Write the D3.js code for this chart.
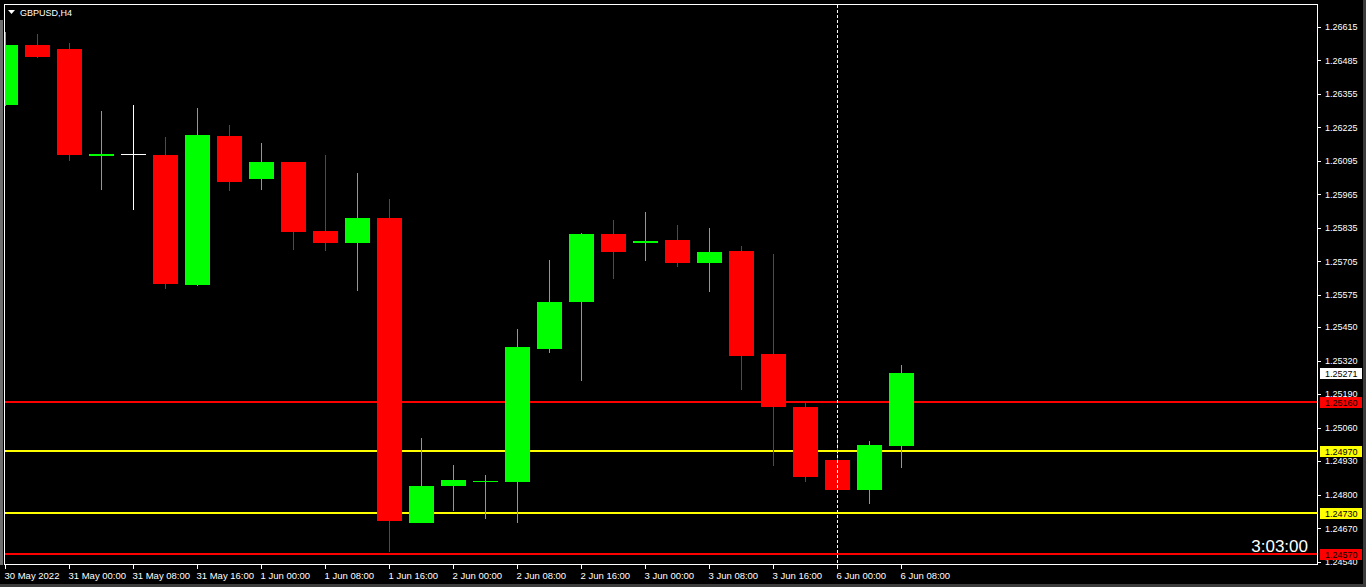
<!DOCTYPE html>
<html>
<head>
<meta charset="utf-8">
<script src="https://cdn.jsdelivr.net/npm/d3@7/dist/d3.min.js"></script>
<style>
  html, body { margin: 0; padding: 0; background: #000; }
  svg { display: block; }
  .axis text { fill: #fff; font-family: "Liberation Sans", Arial, sans-serif; }
  .axis line { stroke: #fff; }
  .axis path { display: none; }
</style>
</head>
<body>
<svg id="chart" width="1366" height="587"></svg>
<script>
//Data
const symbolTitle = 'GBPUSD,H4';
const timerText = '3:03:00';

// H4 bars, 30 May 16:00 -> 6 Jun 08:00
const opens  = [1.26311, 1.26544, 1.26528, 1.26113, 1.26120, 1.26119, 1.25613, 1.26191, 1.26024, 1.26090,
                1.25822, 1.25776, 1.25873, 1.24690, 1.24833, 1.24850, 1.24849, 1.25364, 1.25547, 1.25811,
                1.25776, 1.25787, 1.25698, 1.25745, 1.25345, 1.25139, 1.24934, 1.24818, 1.24988];
const highs  = [1.26594, 1.26586, 1.26551, 1.26288, 1.26311, 1.26187, 1.26299, 1.26233, 1.26164, 1.26092,
                1.26117, 1.26047, 1.25946, 1.25019, 1.24914, 1.24876, 1.25442, 1.25710, 1.25814, 1.25865,
                1.25896, 1.25845, 1.25834, 1.25764, 1.25733, 1.25155, 1.25019, 1.25008, 1.25302];
const lows   = [1.26307, 1.26495, 1.26094, 1.25981, 1.25904, 1.25597, 1.25611, 1.25977, 1.25981, 1.25748,
                1.25745, 1.25589, 1.24577, 1.24690, 1.24736, 1.24705, 1.24690, 1.25349, 1.25240, 1.25636,
                1.25706, 1.25683, 1.25586, 1.25205, 1.24911, 1.24849, 1.24806, 1.24763, 1.24903];
const closes = [1.26544, 1.26497, 1.26117, 1.26121, 1.26120, 1.25617, 1.26195, 1.26012, 1.26090, 1.25818,
                1.25776, 1.25873, 1.24697, 1.24833, 1.24856, 1.24852, 1.25372, 1.25547, 1.25811, 1.25741,
                1.25783, 1.25698, 1.25741, 1.25337, 1.25139, 1.24868, 1.24818, 1.24992, 1.25271];

// one label every 2 bars (8 hours)
const timeLabels = ['30 May 2022', '31 May 00:00', '31 May 08:00', '31 May 16:00', '1 Jun 00:00', '1 Jun 08:00',
                    '1 Jun 16:00', '2 Jun 00:00', '2 Jun 08:00', '2 Jun 16:00', '3 Jun 00:00', '3 Jun 08:00',
                    '3 Jun 16:00', '6 Jun 00:00', '6 Jun 08:00'];

const priceTicks = [1.26615, 1.26485, 1.26355, 1.26225, 1.26095, 1.25965, 1.25835, 1.25705, 1.25575,
                    1.25450, 1.25320, 1.25190, 1.25060, 1.24930, 1.24800, 1.24670, 1.24540];

const priceRange = [1.24527, 1.26699];
const barSlots = 41;             // bars that fit on the visible chart

const levelPrices = [1.25160, 1.24970, 1.24730, 1.24570];
const levelKinds  = ['red', 'yellow', 'yellow', 'red'];
const separatorBar = 26;         // 6 Jun 00:00

//Layout + Styles
const W = 1366, H = 587;
const plot = { left: 5, top: 5, right: 1318, bottom: 565 };
const COLORS = { bull: '#00ff00', bear: '#ff0000', doji: '#ffffff', red: '#ff0000', yellow: '#ffff00' };

const svg = d3.select('#chart');

svg.append('rect').attr('width', W).attr('height', H).attr('fill', '#000');
// window edges
svg.append('rect').attr('x', 0).attr('y', 584).attr('width', W).attr('height', 3).attr('fill', '#3c3c3c');
svg.append('rect').attr('x', 1363).attr('y', 0).attr('width', 3).attr('height', H).attr('fill', '#3c3c3c');
svg.append('rect').attr('x', 0).attr('y', 20).attr('width', 3).attr('height', 545).attr('fill', '#6e6e6e');

const x = d3.scaleLinear().domain([0, barSlots]).range([plot.left, plot.left + 32 * barSlots]);
const y = d3.scaleLinear().domain(priceRange).range([plot.bottom, plot.top]);

const bars = opens.map((o, i) => ({ i, o, h: highs[i], l: lows[i], c: closes[i] }));
const barColor = d => d.c > d.o ? COLORS.bull : d.c < d.o ? COLORS.bear : COLORS.doji;

svg.append('defs').append('clipPath').attr('id', 'plot-clip')
  .append('rect')
  .attr('x', plot.left).attr('y', plot.top)
  .attr('width', plot.right - plot.left).attr('height', plot.bottom - plot.top);

const g = svg.append('g').attr('clip-path', 'url(#plot-clip)').attr('shape-rendering', 'crispEdges');

// horizontal levels
levelPrices.forEach((p, i) => {
  g.append('rect')
    .attr('x', plot.left).attr('width', plot.right - plot.left)
    .attr('y', Math.round(y(p)) - 1).attr('height', 2)
    .attr('fill', COLORS[levelKinds[i]]);
});

// wicks
g.selectAll('.wick').data(bars).join('rect')
  .attr('class', 'wick')
  .attr('x', d => Math.round(x(d.i)))
  .attr('width', 1)
  .attr('y', d => Math.round(y(d.h)))
  .attr('height', d => Math.max(1, Math.round(y(d.l)) - Math.round(y(d.h))))
  .attr('fill', barColor);

// bodies
g.selectAll('.body').data(bars).join('rect')
  .attr('class', 'body')
  .attr('x', d => Math.round(x(d.i)) - 12)
  .attr('width', 25)
  .attr('y', d => Math.round(y(Math.max(d.o, d.c))))
  .attr('height', d => Math.max(1, Math.round(y(Math.min(d.o, d.c))) - Math.round(y(Math.max(d.o, d.c)))))
  .attr('fill', barColor);

// vertical dashed separator
svg.append('line')
  .attr('x1', Math.round(x(separatorBar)) + 0.5).attr('x2', Math.round(x(separatorBar)) + 0.5)
  .attr('y1', plot.top).attr('y2', plot.bottom + 3)
  .attr('stroke', '#fff').attr('stroke-dasharray', '3,2');

// frame
svg.append('rect')
  .attr('x', plot.left - 0.5).attr('y', plot.top - 0.5)
  .attr('width', plot.right - plot.left).attr('height', plot.bottom - plot.top)
  .attr('fill', 'none').attr('stroke', '#fff');

// price axis
const yAxis = svg.append('g')
  .attr('class', 'axis')
  .attr('transform', `translate(${plot.right},0)`)
  .call(d3.axisRight(y).tickValues(priceTicks).tickSize(3).tickPadding(4).tickFormat(d3.format('.5f')));
yAxis.selectAll('text').attr('font-size', 9);
yAxis.selectAll('line').attr('shape-rendering', 'crispEdges');

// time axis
const xAxis = svg.append('g')
  .attr('class', 'axis')
  .attr('transform', `translate(0,${plot.bottom})`)
  .call(d3.axisBottom(x).tickValues(timeLabels.map((t, i) => i * 2)).tickSize(4).tickPadding(3)
    .tickFormat((d, i) => timeLabels[i]));
xAxis.selectAll('text').attr('font-size', 9.5).attr('text-anchor', 'start').attr('dx', -1);
xAxis.selectAll('line').attr('shape-rendering', 'crispEdges');

// price tags on the axis
const tag = (p, bg) => {
  const cy = Math.round(y(p));
  svg.append('rect')
    .attr('x', plot.right + 2).attr('y', cy - 5).attr('width', 42).attr('height', 11)
    .attr('fill', bg);
  svg.append('text')
    .attr('x', plot.right + 7).attr('y', cy + 4)
    .attr('font-family', '"Liberation Sans", Arial, sans-serif').attr('font-size', 9)
    .attr('fill', '#000')
    .text(d3.format('.5f')(p));
};
levelPrices.forEach((p, i) => tag(p, COLORS[levelKinds[i]]));
tag(closes[closes.length - 1], '#ffffff');

// title
svg.append('path').attr('d', 'M8,10 L15,10 L11.5,14 Z').attr('fill', '#fff');
svg.append('text')
  .attr('x', 20).attr('y', 16)
  .attr('font-family', '"Liberation Sans", Arial, sans-serif').attr('font-size', 9)
  .attr('fill', '#fff')
  .text(symbolTitle);

// bar timer
svg.append('text')
  .attr('x', 1308).attr('y', 552)
  .attr('text-anchor', 'end')
  .attr('font-family', '"Liberation Sans", Arial, sans-serif').attr('font-size', 17)
  .attr('fill', '#fff')
  .text(timerText);
</script>
</body>
</html>
